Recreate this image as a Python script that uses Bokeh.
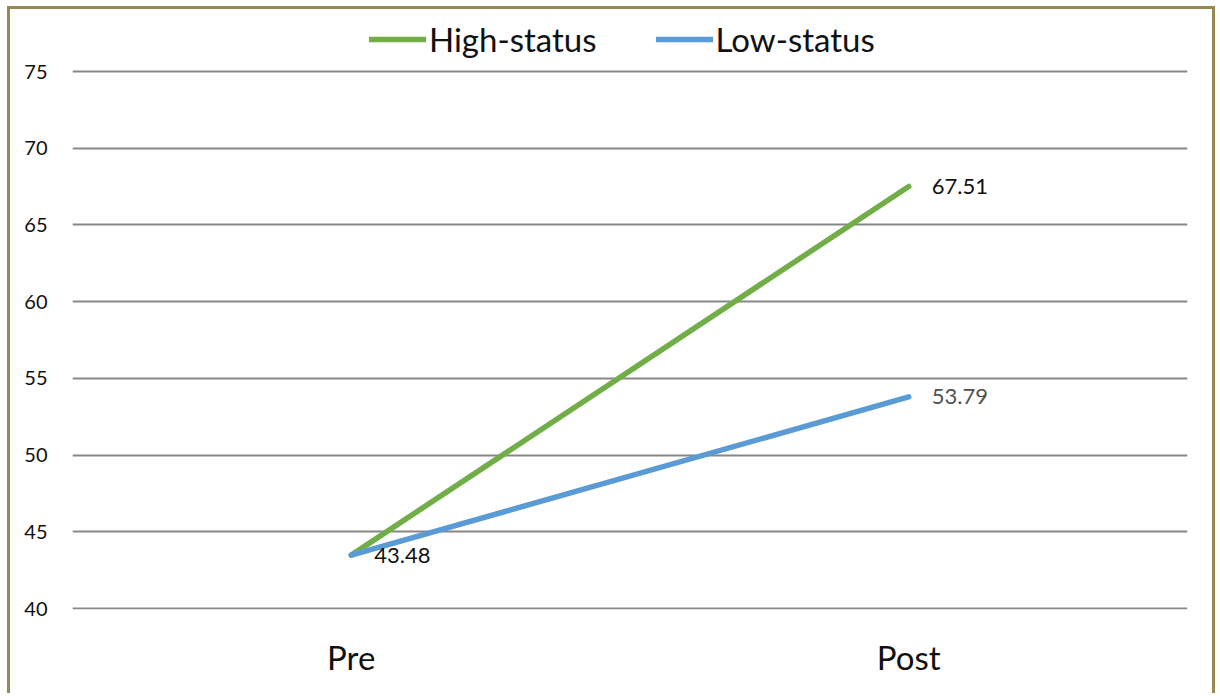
from bokeh.plotting import figure
from bokeh.models import (FactorRange, Range1d, Legend, LegendItem,
                          LabelSet, ColumnDataSource, FixedTicker)
from bokeh.core.properties import value
from bokeh.embed import file_html
from bokeh.resources import INLINE

# Mean scores before and after, by status group
phases = ["Pre", "Post"]
high_status = [43.48, 67.51]
low_status = [43.48, 53.79]
y_ticks = [40, 45, 50, 55, 60, 65, 70, 75]

FONT = "Lato"
GREEN = "#72AE48"
BLUE = "#5B9BD5"
GRID = "#878787"
TEXT = "#111111"

# the frame runs a little above 75 so the legend has room at the top
p = figure(width=1208, height=687,
           x_range=FactorRange(*phases, range_padding=0),
           y_range=Range1d(39.935, 78.585),
           output_backend="svg", toolbar_location=None,
           min_border_left=62, min_border_right=31,
           min_border_top=7, min_border_bottom=87)

# olive frame around the whole chart (open at the bottom)
p.styles = {"border-left": "3px solid #948A54", "border-top": "3px solid #948A54",
            "border-right": "3px solid #948A54", "margin-left": "7px", "margin-top": "6px"}

p.outline_line_color = None
p.background_fill_color = "white"
p.border_fill_color = "white"

p.xgrid.visible = False
p.ygrid.grid_line_color = GRID
p.ygrid.grid_line_width = 2

p.yaxis.ticker = FixedTicker(ticks=y_ticks)
p.yaxis.axis_line_color = None
p.yaxis.major_tick_line_color = None
p.yaxis.minor_tick_line_color = None
p.yaxis.major_label_standoff = 19
p.yaxis.major_label_text_font = FONT
p.yaxis.major_label_text_font_size = "20px"
p.yaxis.major_label_text_color = TEXT

p.xaxis.axis_line_color = None
p.xaxis.major_tick_line_color = None
p.xaxis.minor_tick_line_color = None
p.xaxis.major_label_standoff = 21
p.xaxis.major_label_text_font = FONT
p.xaxis.major_label_text_font_size = "33px"
p.xaxis.major_label_text_color = TEXT

r_high = p.line(x=phases, y=high_status, line_color=GREEN, line_width=5.5, line_cap="round")
r_low = p.line(x=phases, y=low_status, line_color=BLUE, line_width=5.5, line_cap="round")

# Value labels next to the line ends
lab_dark = ColumnDataSource(dict(x=["Pre", "Post"], y=[high_status[0], high_status[1]],
                                 t=[f"{high_status[0]:.2f}", f"{high_status[1]:.2f}"]))
lab_grey = ColumnDataSource(dict(x=["Post"], y=[low_status[1]], t=[f"{low_status[1]:.2f}"]))
p.add_layout(LabelSet(x="x", y="y", text="t", source=lab_dark, x_offset=23,
                      text_baseline="middle", text_font=value(FONT), text_font_size="22px",
                      text_color=TEXT))
p.add_layout(LabelSet(x="x", y="y", text="t", source=lab_grey, x_offset=23,
                      text_baseline="middle", text_font=value(FONT), text_font_size="22px",
                      text_color="#505050"))

legend = Legend(items=[LegendItem(label="High-status", renderers=[r_high]),
                       LegendItem(label="Low-status", renderers=[r_low])],
                orientation="horizontal", location=(297, 550),
                glyph_width=57, glyph_height=30, label_standoff=3, spacing=59,
                padding=0, margin=0,
                label_text_font=FONT, label_text_font_size="33px",
                label_text_color=TEXT,
                border_line_color=None, background_fill_alpha=0)
p.add_layout(legend, "center")

open("out.html", "w").write(file_html(p, INLINE))
